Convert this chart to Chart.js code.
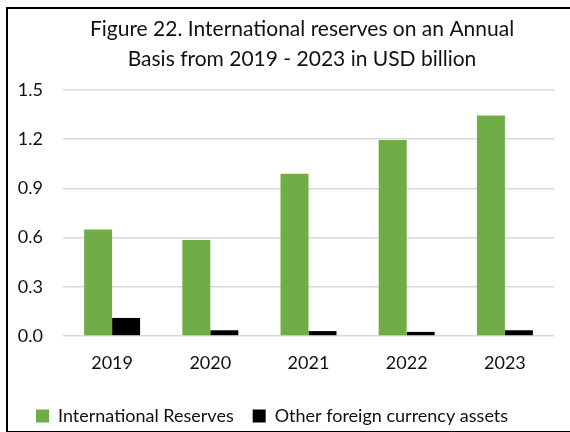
<!DOCTYPE html>
<html>
<head>
<meta charset="utf-8">
<script src="https://cdn.jsdelivr.net/npm/chart.js@4/dist/chart.umd.min.js"></script>
<style>
html, body { margin: 0; padding: 0; overflow: hidden; background: #fff; width: 570px; height: 432px; }
#wrap { position: absolute; left: 0; top: 0; width: 587px; height: 440px; }
</style>
</head>
<body>
<div id="wrap"><canvas id="c" width="587" height="440"></canvas></div>
<script>
const titleLines = ["Figure 22. International reserves on an Annual", "Basis from 2019 - 2023 in USD billion"];
const categories = ["2019", "2020", "2021", "2022", "2023"];
const seriesNames = ["International Reserves", "Other foreign currency assets"];
const internationalReserves = [0.65, 0.585, 0.99, 1.195, 1.345];
const otherForeignAssets = [0.11, 0.035, 0.03, 0.025, 0.035];
const yTicks = [0.0, 0.3, 0.6, 0.9, 1.2, 1.5];

const FONT = "Lato, 'Open Sans', sans-serif";

const framePlugin = {
  id: 'frame',
  afterDraw(chart) {
    const ctx = chart.ctx;
    ctx.save();
    ctx.strokeStyle = '#000';
    ctx.lineWidth = 2;
    ctx.strokeRect(7, 8, chart.width - 14, chart.height - 16);
    ctx.restore();
  }
};

new Chart(document.getElementById('c'), {
  type: 'bar',
  data: {
    labels: categories,
    datasets: [
      { label: seriesNames[0], data: internationalReserves, backgroundColor: '#70ad47', borderWidth: 0 },
      { label: seriesNames[1], data: otherForeignAssets, backgroundColor: '#000000', borderWidth: 0 }
    ]
  },
  options: {
    responsive: false,
    animation: false,
    layout: { padding: { left: 17, right: 0, top: 0, bottom: 5 } },
    datasets: { bar: { categoryPercentage: 0.57, barPercentage: 1.0 } },
    scales: {
      x: {
        grid: { display: false, drawTicks: false },
        border: { display: false },
        ticks: { color: '#111', font: { family: FONT, size: 18 }, padding: 16 },
        afterFit(s) { s.height = 52; }
      },
      y: {
        min: 0, max: 1.5,
        afterBuildTicks(s) { s.ticks = yTicks.map(v => ({ value: v })); },
        grid: { color: '#d9d9d9', lineWidth: 1.6, drawTicks: false },
        border: { display: false },
        ticks: { color: '#111', font: { family: FONT, size: 18 }, padding: 20, callback: v => Number(v).toFixed(1) },
        afterFit(s) { s.width = 46; }
      },
      y2: {
        position: 'right',
        display: true,
        grid: { display: false, drawTicks: false },
        border: { display: false },
        ticks: { display: false },
        afterFit(s) { s.width = 33; }
      }
    },
    plugins: {
      title: {
        display: true,
        text: titleLines,
        color: '#111',
        font: { family: FONT, size: 21, weight: 'normal', lineHeight: 30 / 21 },
        padding: { top: 14, bottom: 16 }
      },
      legend: {
        position: 'bottom',
        align: 'start',
        labels: {
          color: '#111',
          font: { family: FONT, size: 18 },
          boxWidth: 13,
          boxHeight: 13,
          padding: 19
        }
      },
      tooltip: { enabled: false }
    }
  },
  plugins: [framePlugin]
});
</script>
</body>
</html>
